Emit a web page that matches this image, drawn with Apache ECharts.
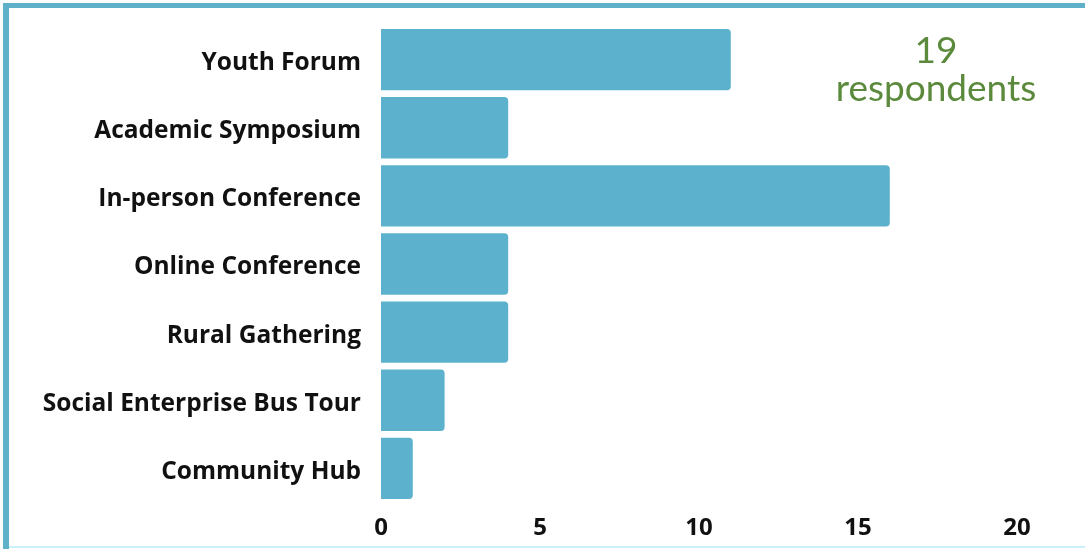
<!DOCTYPE html>
<html>
<head>
<meta charset="utf-8">
<script src="https://cdn.jsdelivr.net/npm/echarts@6/dist/echarts.min.js"></script>
<style>
html,body{margin:0;padding:0;background:#fff;}
#c{width:1085px;height:549px;}
</style>
</head>
<body>
<div id="c"></div>
<script>
const categories = ["Youth Forum","Academic Symposium","In-person Conference","Online Conference","Rural Gathering","Social Enterprise Bus Tour","Community Hub"];
const values = [11,4,16,4,4,2,1];
const xTicks = [0,5,10,15,20];
const noteCount = "19";
const noteText = "respondents";

const chart = echarts.init(document.getElementById('c'));
chart.setOption({
  backgroundColor:'#ffffff',
  animation:false,
  graphic:[
    {type:'rect',shape:{x:3,y:3,width:1082,height:5},style:{fill:'#5fb0c9'},silent:true},
    {type:'rect',shape:{x:3,y:3,width:6,height:546},style:{fill:'#5fb0c9'},silent:true},
    {type:'rect',shape:{x:9,y:546,width:1076,height:2},style:{fill:'#c9f1f7'},silent:true},
    {type:'text',x:936,y:51,style:{text:noteCount,fill:'#5b8a3c',font:'37px Lato',align:'center',verticalAlign:'middle'}},
    {type:'text',x:936,y:89,style:{text:noteText,fill:'#5b8a3c',font:'37px Lato',align:'center',verticalAlign:'middle'}}
  ],
  grid:{left:381,right:68,top:25.5,bottom:46.5,containLabel:false},
  xAxis:{
    type:'value',min:0,max:20,interval:5,
    axisLine:{show:false},axisTick:{show:false},splitLine:{show:false},
    axisLabel:{margin:14,color:'#111',fontFamily:'Open Sans',fontWeight:'bold',fontSize:24,
      formatter:v=>xTicks.includes(v)?String(v):''}
  },
  yAxis:{
    type:'category',data:categories,inverse:true,
    axisLine:{show:false},axisTick:{show:false},
    axisLabel:{margin:20,formatter:v=>'{a|'+v+'}',
      rich:{a:{color:'#111',fontFamily:'Open Sans',fontWeight:'bold',fontSize:24.5,padding:[7,0,0,0]}}}
  },
  series:[{
    type:'bar',data:values,barCategoryGap:'10%',
    itemStyle:{color:'#5cb2cc',borderRadius:[0,4,4,0]}
  }]
});
</script>
</body>
</html>
